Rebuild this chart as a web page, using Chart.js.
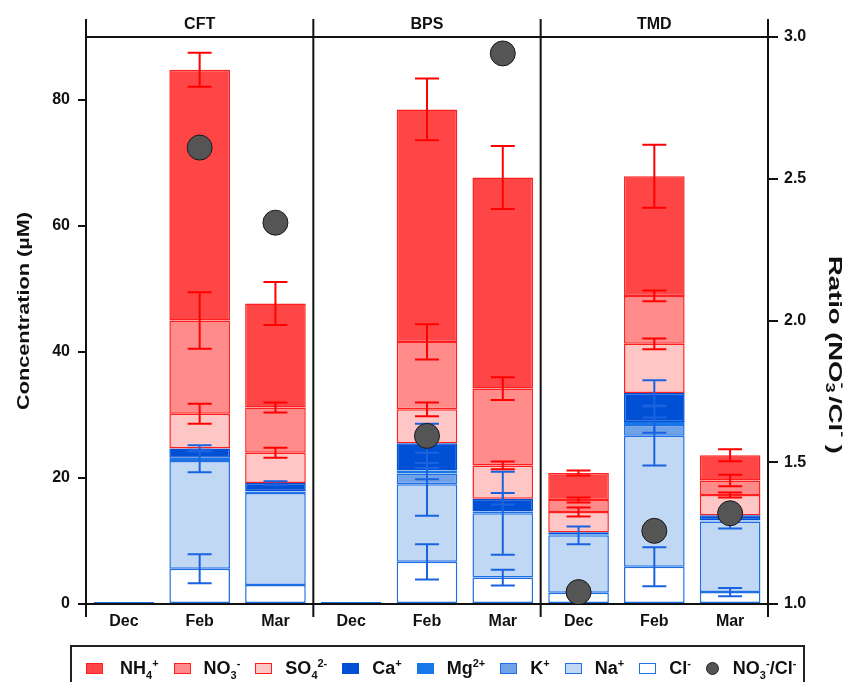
<!DOCTYPE html>
<html>
<head>
<meta charset="utf-8">
<script src="https://cdn.jsdelivr.net/npm/chart.js@4.4.1/dist/chart.umd.min.js"></script>
<style>
  body { margin: 0; background: #fff; font-family: 'Liberation Sans', Arial, sans-serif; }
  #wrap { position: relative; width: 845px; height: 682px; overflow: hidden; }
  #legend { position: absolute; left: 70px; top: 645px; width: 735px; height: 50px; box-sizing: border-box;
            border: 2px solid #222; display: flex; align-items: center; padding: 0 0 3px 14px;
            font-weight: bold; font-size: 18px; color: #111; }
  .item { display: flex; align-items: center; margin-right: 15px; white-space: nowrap; }
  .sw { width: 15px; height: 9px; border: 1.5px solid; margin-right: 13px; }
  .item:first-child .sw { margin-right: 17px; }
  .dot { width: 11px; height: 11px; border-radius: 50%; background: #555; border: 1px solid #222; margin-right: 14px; }
  sub, sup { font-size: 11px; line-height: 0; }
</style>
</head>
<body>
<div id="wrap">
  <canvas id="chart" width="845" height="682"></canvas>
  <div id="legend"></div>
</div>
<script>
// sites x months, in plotting order
const sites  = ['CFT', 'BPS', 'TMD'];
const months = ['Dec', 'Feb', 'Mar'];

// concentrations (µM), stacked bottom -> top
const cl  = [0, 5.6, 3.0, 0, 6.7, 4.2, 1.8, 5.9, 1.9];
const na  = [0, 17.1, 14.6, 0, 12.3, 10.2, 9.1, 20.8, 11.2];
const k   = [0, 0.3, 0.2, 0, 1.7, 0.2, 0.1, 1.7, 0.1];
const mg  = [0, 0.2, 0.1, 0, 0.5, 0.1, 0.1, 0.5, 0.1];
const ca  = [0, 1.5, 1.3, 0, 4.3, 2.0, 0.3, 4.6, 0.8];
const so4 = [0, 5.5, 4.8, 0, 5.4, 5.3, 3.2, 7.8, 3.2];
const no3 = [0, 14.8, 7.2, 0, 10.7, 12.2, 1.9, 7.6, 2.3];
const nh4 = [0, 39.8, 16.5, 0, 36.9, 33.5, 4.3, 19.0, 4.0];

// +/- error drawn at the top of each segment
const clErr  = [0, 2.3, 0, 0, 2.8, 1.25, 0, 3.1, 0.65];
const naErr  = [0, 1.8, 0, 0, 5.0, 6.6, 1.4, 4.7, 1.1];
const kErr   = [0, 0, 0, 0, 0.9, 0, 0, 1.2, 0];
const mgErr  = [0, 0, 0, 0, 0, 0, 0, 0, 0];
const caErr  = [0, 0.5, 0.3, 0, 3.1, 0.9, 0, 2.0, 0];
const so4Err = [0, 1.6, 0.8, 0, 1.1, 0.6, 0.7, 0.85, 0.4];
const no3Err = [0, 4.5, 0.8, 0, 2.8, 1.8, 0.4, 0.85, 0.9];
const nh4Err = [0, 2.7, 3.4, 0, 4.9, 5.0, 0.4, 5.0, 0.95];

// NO3-/Cl- ratio (right axis)
const ratio = [null, 2.61, 2.345, null, 1.593, 2.942, 1.042, 1.258, 1.32];

const concTicks  = [0, 20, 40, 60, 80];
const ratioTicks = [1.0, 1.5, 2.0, 2.5, 3.0];

const RED = '#ff1f1f', BLUE = '#1f6fe5';
const ions = [
  { name: 'Cl-',    html: 'Cl<sup>-</sup>',                 data: cl,  err: clErr,  fill: '#ffffff', line: BLUE },
  { name: 'Na+',    html: 'Na<sup>+</sup>',                 data: na,  err: naErr,  fill: '#c1d8f5', line: BLUE },
  { name: 'K+',     html: 'K<sup>+</sup>',                  data: k,   err: kErr,   fill: '#70a2e8', line: BLUE },
  { name: 'Mg2+',   html: 'Mg<sup>2+</sup>',                data: mg,  err: mgErr,  fill: '#1678e8', line: '#1678e8' },
  { name: 'Ca+',    html: 'Ca<sup>+</sup>',                 data: ca,  err: caErr,  fill: '#0050d6', line: '#0050d6' },
  { name: 'SO42-',  html: 'SO<sub>4</sub><sup>2-</sup>',    data: so4, err: so4Err, fill: '#ffc6c6', line: RED },
  { name: 'NO3-',   html: 'NO<sub>3</sub><sup>-</sup>',     data: no3, err: no3Err, fill: '#ff8b8b', line: RED },
  { name: 'NH4+',   html: 'NH<sub>4</sub><sup>+</sup>',     data: nh4, err: nh4Err, fill: '#ff4646', line: RED },
];
const labels = sites.flatMap(() => months);
const ratioIdx = ions.length;

function drawErrors(chart) {
  const ctx = chart.ctx, y = chart.scales.y;
  ctx.save(); ctx.lineWidth = 2;
  ions.forEach((ion, i) => {
    const meta = chart.getDatasetMeta(i);
    ion.err.forEach((e, j) => {
      if (!e) return;
      const top = ions.slice(0, i + 1).reduce((s, o) => s + o.data[j], 0);
      const px = meta.data[j].x, hi = y.getPixelForValue(top + e), lo = y.getPixelForValue(top - e);
      ctx.strokeStyle = i >= 5 ? '#ff0000' : '#1a63e0';
      ctx.beginPath();
      ctx.moveTo(px, hi); ctx.lineTo(px, lo);
      ctx.moveTo(px - 12, hi); ctx.lineTo(px + 12, hi);
      ctx.moveTo(px - 12, lo); ctx.lineTo(px + 12, lo);
      ctx.stroke();
    });
  });
  ctx.restore();
}

// rotated title made of pieces [text, size, dy, advances], stretched to a given length
function drawTitle(ctx, parts, cx, cy, angle, length) {
  const font = s => 'bold ' + s + 'px "Liberation Sans"';
  let total = 0;
  parts.forEach(p => { ctx.font = font(p[1]); if (p[3] !== false) total += ctx.measureText(p[0]).width; });
  ctx.save();
  ctx.translate(cx, cy); ctx.rotate(angle); ctx.scale(length / total, 1);
  ctx.textAlign = 'left'; ctx.textBaseline = 'middle';
  let x = -total / 2;
  parts.forEach(p => {
    ctx.font = font(p[1]);
    ctx.fillText(p[0], x, p[2]);
    if (p[3] !== false) x += ctx.measureText(p[0]).width;
  });
  ctx.restore();
}

const decor = {
  id: 'decor',
  beforeDatasetDraw(chart, args) { if (args.index === ratioIdx) drawErrors(chart); },
  afterDraw(chart) {
    const { ctx, chartArea: a, scales: { x } } = chart;
    ctx.save();
    ctx.strokeStyle = '#111'; ctx.lineWidth = 2;
    const ln = (x1, y1, x2, y2) => { ctx.beginPath(); ctx.moveTo(x1, y1); ctx.lineTo(x2, y2); ctx.stroke(); };
    ln(a.left, a.top, a.right, a.top);
    const edges = [a.left, a.right];
    for (let g = 1; g < sites.length; g++) edges.push((x.getPixelForValue(g * 3 - 1) + x.getPixelForValue(g * 3)) / 2);
    edges.forEach(px => ln(px, a.top - 18, px, a.bottom + 13));

    ctx.fillStyle = '#111';
    ctx.font = 'bold 16px "Liberation Sans"'; ctx.textAlign = 'center'; ctx.textBaseline = 'middle';
    sites.forEach((s, i) => ctx.fillText(s, (x.getPixelForValue(i * 3) + x.getPixelForValue(i * 3 + 2)) / 2, a.top - 12));

    drawTitle(ctx, [['Concentration (µM)', 17, 0]], 24, 311, -Math.PI / 2, 198);
    drawTitle(ctx, [['Ratio (NO', 18, 0], ['3', 12, 5, false], ['-', 12, -7], [' /Cl', 18, 0], ['-', 12, -7], [' )', 18, 0]],
              834, 355, Math.PI / 2, 198);
    ctx.restore();
  }
};

const datasets = ions.map((ion, i) => ({
  type: 'bar', label: ion.name, data: ion.data, yAxisID: 'y', order: 1,
  backgroundColor: ion.fill, borderColor: ion.line, borderWidth: 1.5, borderSkipped: false,
  barPercentage: 0.8, categoryPercentage: 1.0, minBarLength: i === 0 ? 2 : 0
}));
datasets.push({
  type: 'line', label: 'NO3-/Cl-', data: ratio, yAxisID: 'y2', order: 0, showLine: false,
  pointRadius: 12.5, pointBackgroundColor: '#555555', pointBorderColor: '#1a1a1a', pointBorderWidth: 1
});

const tickFont = { family: 'Liberation Sans', size: 16, weight: 'bold' };
new Chart(document.getElementById('chart'), {
  data: { labels, datasets },
  plugins: [decor],
  options: {
    responsive: false, animation: false,
    layout: { padding: { top: 37, left: 0, right: 0, bottom: 0 } },
    plugins: { legend: { display: false }, tooltip: { enabled: false } },
    scales: {
      x: {
        stacked: true, offset: true,
        grid: { display: false, drawTicks: false },
        border: { display: true, color: '#111', width: 2 },
        ticks: { color: '#111', font: tickFont, padding: 8, maxRotation: 0, autoSkip: false },
        afterFit: s => { s.height = 78; }
      },
      y: {
        stacked: true, position: 'left', min: 0, max: 90,
        grid: { drawOnChartArea: false, color: '#111', lineWidth: 2, tickLength: 8 },
        border: { display: true, color: '#111', width: 2 },
        ticks: { color: '#111', font: tickFont, padding: 8 },
        afterBuildTicks: s => { s.ticks = concTicks.map(v => ({ value: v })); },
        afterFit: s => { s.width = 86; }
      },
      y2: {
        position: 'right', min: 1, max: 3,
        grid: { drawOnChartArea: false, color: '#111', lineWidth: 2, tickLength: 10 },
        border: { display: true, color: '#111', width: 2 },
        ticks: { color: '#111', font: tickFont, padding: 6, callback: v => Number(v).toFixed(1) },
        afterBuildTicks: s => { s.ticks = ratioTicks.map(v => ({ value: v })); },
        afterFit: s => { s.width = 77; }
      }
    }
  }
});

// legend (top of stack first)
const lg = document.getElementById('legend');
lg.innerHTML = ions.slice().reverse().map(ion =>
  `<div class="item"><span class="sw" style="background:${ion.fill};border-color:${ion.line}"></span><span>${ion.html}</span></div>`
).join('') + `<div class="item"><span class="dot"></span><span>NO<sub>3</sub><sup>-</sup>/Cl<sup>-</sup></span></div>`;
</script>
</body>
</html>
